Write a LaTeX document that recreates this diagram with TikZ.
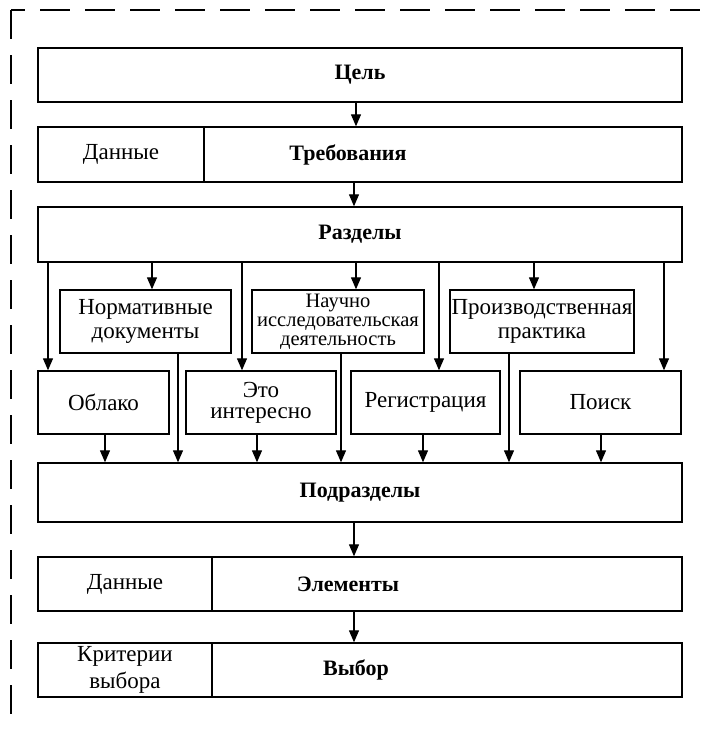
\documentclass[tikz,border=0pt]{standalone}
\usepackage{fontspec}
\setmainfont{Liberation Serif}
\usetikzlibrary{arrows.meta}
\begin{document}
\begin{tikzpicture}[x=1pt,y=-1pt,
  box/.style={draw, line width=1.4pt, rectangle, inner sep=0pt, align=center,
              font=\fontsize{23}{24}\selectfont},
  ttl/.style={font=\fontsize{22}{24}\selectfont\bfseries},
  lbl/.style={inner sep=0pt, font=\fontsize{22}{24}\selectfont\bfseries},
  arr/.style={line width=1.3pt, -{Triangle[length=12pt,width=10pt]}},
  frm/.style={line width=1.5pt}
]
\useasboundingbox (0,0) rectangle (702,729);

% dashed frame
\draw[frm, dash pattern=on 29pt off 16pt] (11,10) -- (11,719);
\draw[frm, dash pattern=on 30pt off 15pt, dash phase=16pt] (11,10) -- (702,10);

% top level
\node[box, ttl, minimum width=644pt, minimum height=54pt] (cel) at (360,75) {Цель};

\node[box, minimum width=166pt, minimum height=55pt] (dan1) at (121,154.5) {Данные};
\node[box, minimum width=478pt, minimum height=55pt] (treb) at (443,154.5) {};
\node[lbl] (trebl) at (348,154.5) {Требования};

\node[box, ttl, minimum width=644pt, minimum height=55pt] (razd) at (360,234.5) {Разделы};

% upper middle row
\node[box, minimum width=171pt, minimum height=63pt] (norm) at (145.5,321.5) {Нормативные\\документы};
\node[box, minimum width=172pt, minimum height=63pt, font=\fontsize{20.5}{19}\selectfont] (nauch) at (338,321.5) {Научно\\исследовательская\\деятельность};
\node[box, minimum width=184pt, minimum height=63pt] (proizv) at (542,321.5) {Производственная\\практика};

% lower middle row
\node[box, minimum width=131pt, minimum height=63pt] (obl) at (103.5,402.5) {Облако};
\node[box, minimum width=150pt, minimum height=63pt, font=\fontsize{23}{21}\selectfont] (eto) at (261,402.5) {Это\\интересно};
\node[box, minimum width=149pt, minimum height=63pt] (reg) at (425.5,402.5) {Регистрация};
\node[box, minimum width=161pt, minimum height=63pt] (poisk) at (600.5,402.5) {Поиск};

\node[box, ttl, minimum width=644pt, minimum height=59pt] (podr) at (360,492.5) {Подразделы};

\node[box, minimum width=174pt, minimum height=54pt] (dan2) at (125,584) {Данные};
\node[box, minimum width=470pt, minimum height=54pt] (elem) at (447,584) {};
\node[lbl] (eleml) at (348,584) {Элементы};

\node[box, minimum width=174pt, minimum height=54pt, font=\fontsize{23}{27}\selectfont] (krit) at (125,670) {Критерии\\выбора};
\node[box, minimum width=470pt, minimum height=54pt] (vyb) at (447,670) {};
\node[lbl] (vybl) at (356,670) {Выбор};

% arrows
\draw[arr] (356,0 |- cel.south) -- (356,0 |- treb.north);
\draw[arr] (354,0 |- treb.south) -- (354,0 |- razd.north);

\draw[arr] (48,0 |- razd.south) -- (48,0 |- obl.north);
\draw[arr] (152,0 |- razd.south) -- (152,0 |- norm.north);
\draw[arr] (242,0 |- razd.south) -- (242,0 |- eto.north);
\draw[arr] (356,0 |- razd.south) -- (356,0 |- nauch.north);
\draw[arr] (439,0 |- razd.south) -- (439,0 |- reg.north);
\draw[arr] (534,0 |- razd.south) -- (534,0 |- proizv.north);
\draw[arr] (664,0 |- razd.south) -- (664,0 |- poisk.north);

\draw[arr] (105,0 |- obl.south) -- (105,0 |- podr.north);
\draw[arr] (178,0 |- norm.south) -- (178,0 |- podr.north);
\draw[arr] (257,0 |- eto.south) -- (257,0 |- podr.north);
\draw[arr] (341,0 |- nauch.south) -- (341,0 |- podr.north);
\draw[arr] (423,0 |- reg.south) -- (423,0 |- podr.north);
\draw[arr] (509,0 |- proizv.south) -- (509,0 |- podr.north);
\draw[arr] (601,0 |- poisk.south) -- (601,0 |- podr.north);

\draw[arr] (354,0 |- podr.south) -- (354,0 |- elem.north);
\draw[arr] (354,0 |- elem.south) -- (354,0 |- vyb.north);
\end{tikzpicture}
\end{document}
